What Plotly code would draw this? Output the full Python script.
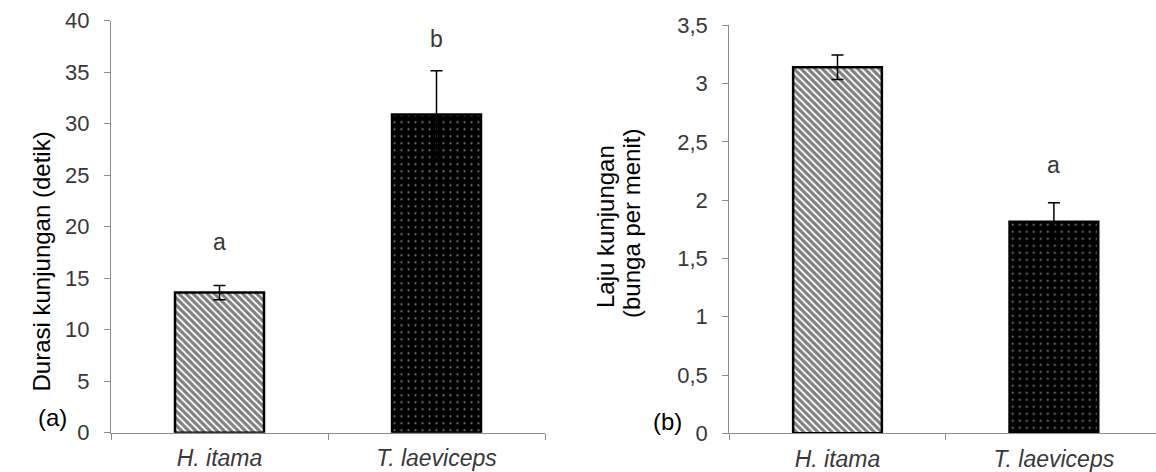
import plotly.graph_objects as go

# ---- data ----
species = ["H. itama", "T. laeviceps"]

durasi = [13.6, 30.9]          # panel (a) mean visit duration (detik)
durasi_err = [0.7, 4.25]
durasi_sig = ["a", "b"]
durasi_sig_y = [18.5, 38.2]

laju = [3.14, 1.815]            # panel (b) visit rate (bunga per menit)
laju_err = [0.105, 0.163]
laju_sig = ["a", "a"]
laju_sig_y = [3.585, 2.30]

durasi_ticks = [0, 5, 10, 15, 20, 25, 30, 35, 40]
laju_tickvals = [0, 0.5, 1, 1.5, 2, 2.5, 3, 3.5]
laju_ticktext = ["0", "0,5", "1", "1,5", "2", "2,5", "3", "3,5"]

FONT = "Arial, Liberation Sans, sans-serif"
AXCOL = "#8c8c8c"
TXTCOL = "#383838"

W, H = 1156, 472

patterns = [
    dict(shape="\\", fgcolor="black", bgcolor="white", size=5, solidity=0.65),
    dict(shape=".", fgcolor="white", bgcolor="black", size=7, solidity=0.08),
]


def bars(y, err, xa, ya):
    traces = []
    for i, cat in enumerate(species):
        traces.append(go.Bar(
            x=[cat], y=[y[i]], xaxis=xa, yaxis=ya,
            width=0.41,
            marker=dict(color="black" if i == 1 else "white",
                        pattern=patterns[i],
                        line=dict(color="black", width=2.5)),
            error_y=dict(type="data", array=[err[i]], visible=True,
                         color="black", thickness=1.5, width=6),
            showlegend=False,
        ))
    return traces


fig = go.Figure()
for t in bars(durasi, durasi_err, "x", "y"):
    fig.add_trace(t)
for t in bars(laju, laju_err, "x2", "y2"):
    fig.add_trace(t)

common_x = dict(
    type="category", showline=True, linecolor=AXCOL, linewidth=1.2,
    ticks="outside", tickson="boundaries", ticklen=6, tickcolor=AXCOL,
    tickfont=dict(family=FONT, size=23, color=TXTCOL, style="italic"),
    ticklabelstandoff=5, automargin=False,
    showgrid=False, zeroline=False, fixedrange=True,
)
common_y = dict(
    showline=True, linecolor=AXCOL, linewidth=1.2,
    ticks="outside", ticklen=6, tickcolor=AXCOL,
    tickfont=dict(family=FONT, size=22, color=TXTCOL),
    ticklabelstandoff=10, automargin=False,
    showgrid=False, zeroline=False, fixedrange=True,
)

fig.update_layout(
    width=W, height=H,
    margin=dict(l=0, r=0, t=0, b=0, autoexpand=False),
    paper_bgcolor="white", plot_bgcolor="white",
    bargap=0.59,
    xaxis=dict(common_x, domain=[111 / W, 545 / W], anchor="y",
               range=[-0.5, 1.5]),
    yaxis=dict(common_y, domain=[(H - 432.7) / H, (H - 20.7) / H], anchor="x",
               range=[0, 40], tickvals=durasi_ticks),
    xaxis2=dict(common_x, domain=[729.3 / W, 1.0], anchor="y2",
                range=[-0.5, -0.5 + (W - 729.3) / 216.4]),
    yaxis2=dict(common_y, domain=[(H - 433.3) / H, (H - 25.3) / H], anchor="x2",
                range=[0, 3.5], tickvals=laju_tickvals, ticktext=laju_ticktext),
)

ann = []
for i, cat in enumerate(species):
    ann.append(dict(x=cat, y=durasi_sig_y[i], xref="x", yref="y", text=durasi_sig[i],
                    showarrow=False, font=dict(family=FONT, size=23, color=TXTCOL)))
    ann.append(dict(x=cat, y=laju_sig_y[i], xref="x2", yref="y2", text=laju_sig[i],
                    showarrow=False, font=dict(family=FONT, size=23, color=TXTCOL)))

title_font = dict(family=FONT, size=24, color="black")
ann += [
    dict(x=25 / W, y=(H - 262) / H, xref="paper", yref="paper", textangle=-90,
         text="Durasi kunjungan (detik)", showarrow=False, font=title_font),
    dict(x=605 / W, y=(H - 227) / H, xref="paper", yref="paper", textangle=-90,
         text="Laju kunjungan", showarrow=False, font=title_font),
    dict(x=632 / W, y=(H - 224) / H, xref="paper", yref="paper", textangle=-90,
         text="(bunga per menit)", showarrow=False, font=title_font),
    dict(x=36 / W, y=(H - 433) / H, xref="paper", yref="paper",
         text="(a)", showarrow=False, font=title_font),
    dict(x=667 / W, y=(H - 437) / H, xref="paper", yref="paper",
         text="(b)", showarrow=False, font=title_font),
]
fig.update_layout(annotations=ann)

fig.write_html("out.html", config={"displayModeBar": False},
               post_script="document.body.style.margin='0';")
